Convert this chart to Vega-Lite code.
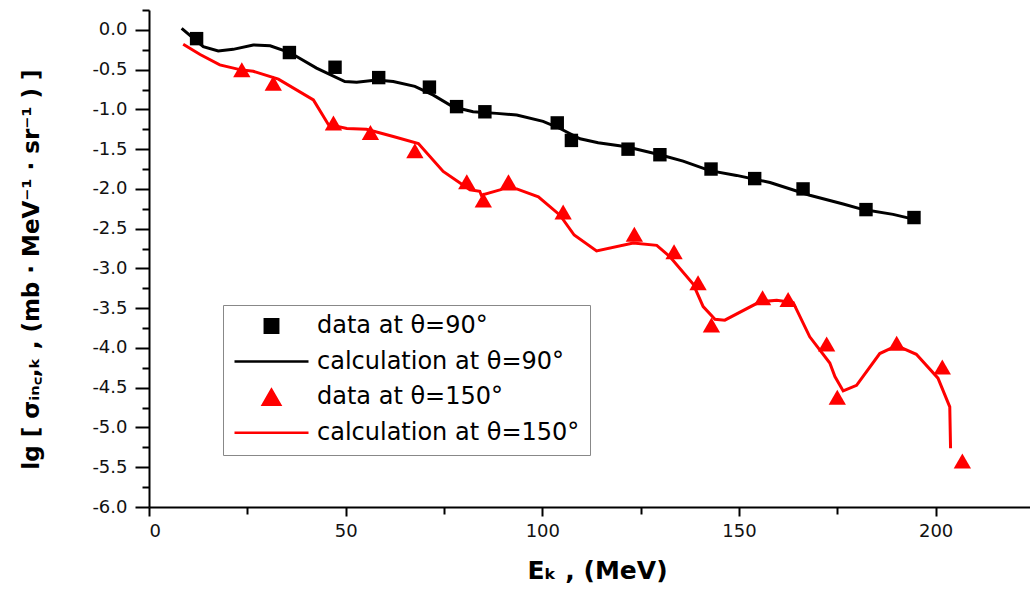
{
  "$schema": "https://vega.github.io/schema/vega-lite/v6.json",
  "width": 881,
  "height": 497,
  "autosize": {"type": "none"},
  "padding": {"left": 149, "top": 10, "right": 0, "bottom": 87},
  "background": "white",
  "config": {
    "view": {"stroke": null},
    "font": "DejaVu Sans",
    "axis": {
      "domainColor": "black", "domainWidth": 2, "tickColor": "black", "tickWidth": 2,
      "labelFont": "DejaVu Sans", "labelFontSize": 18, "labelColor": "#111",
      "titleFont": "DejaVu Sans", "titleFontSize": 22, "titleFontWeight": "bold", "titleColor": "black",
      "grid": false
    }
  },
  "data": {"values": [
    {"series": "calculation at θ=90°", "i": 1, "E": 8.3, "v": 0.02},
    {"series": "calculation at θ=90°", "i": 2, "E": 13.8, "v": -0.21},
    {"series": "calculation at θ=90°", "i": 3, "E": 17.6, "v": -0.265},
    {"series": "calculation at θ=90°", "i": 4, "E": 21.4, "v": -0.245},
    {"series": "calculation at θ=90°", "i": 5, "E": 26.5, "v": -0.19},
    {"series": "calculation at θ=90°", "i": 6, "E": 30.8, "v": -0.2},
    {"series": "calculation at θ=90°", "i": 7, "E": 35.8, "v": -0.285},
    {"series": "calculation at θ=90°", "i": 8, "E": 42.6, "v": -0.48},
    {"series": "calculation at θ=90°", "i": 9, "E": 49.8, "v": -0.65},
    {"series": "calculation at θ=90°", "i": 10, "E": 52.8, "v": -0.66},
    {"series": "calculation at θ=90°", "i": 11, "E": 57.9, "v": -0.63},
    {"series": "calculation at θ=90°", "i": 12, "E": 62.1, "v": -0.65},
    {"series": "calculation at θ=90°", "i": 13, "E": 67.6, "v": -0.71},
    {"series": "calculation at θ=90°", "i": 14, "E": 72.3, "v": -0.82},
    {"series": "calculation at θ=90°", "i": 15, "E": 77.4, "v": -0.97},
    {"series": "calculation at θ=90°", "i": 16, "E": 82.4, "v": -1.03},
    {"series": "calculation at θ=90°", "i": 17, "E": 88.4, "v": -1.05},
    {"series": "calculation at θ=90°", "i": 18, "E": 93.5, "v": -1.07},
    {"series": "calculation at θ=90°", "i": 19, "E": 100.2, "v": -1.15},
    {"series": "calculation at θ=90°", "i": 20, "E": 104.5, "v": -1.24},
    {"series": "calculation at θ=90°", "i": 21, "E": 109.6, "v": -1.37},
    {"series": "calculation at θ=90°", "i": 22, "E": 114.2, "v": -1.42},
    {"series": "calculation at θ=90°", "i": 23, "E": 121.4, "v": -1.47},
    {"series": "calculation at θ=90°", "i": 24, "E": 129.9, "v": -1.57},
    {"series": "calculation at θ=90°", "i": 25, "E": 135.8, "v": -1.65},
    {"series": "calculation at θ=90°", "i": 26, "E": 142.6, "v": -1.77},
    {"series": "calculation at θ=90°", "i": 27, "E": 149.4, "v": -1.83},
    {"series": "calculation at θ=90°", "i": 28, "E": 157.9, "v": -1.92},
    {"series": "calculation at θ=90°", "i": 29, "E": 168.0, "v": -2.08},
    {"series": "calculation at θ=90°", "i": 30, "E": 176.5, "v": -2.19},
    {"series": "calculation at θ=90°", "i": 31, "E": 181.6, "v": -2.26},
    {"series": "calculation at θ=90°", "i": 32, "E": 189.2, "v": -2.32},
    {"series": "calculation at θ=90°", "i": 33, "E": 194.3, "v": -2.38},

    {"series": "calculation at θ=150°", "i": 1, "E": 8.7, "v": -0.18},
    {"series": "calculation at θ=150°", "i": 2, "E": 13.0, "v": -0.31},
    {"series": "calculation at θ=150°", "i": 3, "E": 18.0, "v": -0.44},
    {"series": "calculation at θ=150°", "i": 4, "E": 23.1, "v": -0.5},
    {"series": "calculation at θ=150°", "i": 5, "E": 26.5, "v": -0.52},
    {"series": "calculation at θ=150°", "i": 6, "E": 32.9, "v": -0.62},
    {"series": "calculation at θ=150°", "i": 7, "E": 41.8, "v": -0.88},
    {"series": "calculation at θ=150°", "i": 8, "E": 45.6, "v": -1.19},
    {"series": "calculation at θ=150°", "i": 9, "E": 50.3, "v": -1.24},
    {"series": "calculation at θ=150°", "i": 10, "E": 55.3, "v": -1.25},
    {"series": "calculation at θ=150°", "i": 11, "E": 62.1, "v": -1.34},
    {"series": "calculation at θ=150°", "i": 12, "E": 68.5, "v": -1.43},
    {"series": "calculation at θ=150°", "i": 13, "E": 74.8, "v": -1.78},
    {"series": "calculation at θ=150°", "i": 14, "E": 81.6, "v": -2.01},
    {"series": "calculation at θ=150°", "i": 15, "E": 84.1, "v": -2.03},
    {"series": "calculation at θ=150°", "i": 16, "E": 84.5, "v": -2.08},
    {"series": "calculation at θ=150°", "i": 17, "E": 90.1, "v": -2.0},
    {"series": "calculation at θ=150°", "i": 18, "E": 93.5, "v": -2.0},
    {"series": "calculation at θ=150°", "i": 19, "E": 99.0, "v": -2.1},
    {"series": "calculation at θ=150°", "i": 20, "E": 104.5, "v": -2.33},
    {"series": "calculation at θ=150°", "i": 21, "E": 108.1, "v": -2.58},
    {"series": "calculation at θ=150°", "i": 22, "E": 113.8, "v": -2.78},
    {"series": "calculation at θ=150°", "i": 23, "E": 123.1, "v": -2.68},
    {"series": "calculation at θ=150°", "i": 24, "E": 129.1, "v": -2.71},
    {"series": "calculation at θ=150°", "i": 25, "E": 132.4, "v": -2.85},
    {"series": "calculation at θ=150°", "i": 26, "E": 138.4, "v": -3.2},
    {"series": "calculation at θ=150°", "i": 27, "E": 140.9, "v": -3.48},
    {"series": "calculation at θ=150°", "i": 28, "E": 143.9, "v": -3.64},
    {"series": "calculation at θ=150°", "i": 29, "E": 146.4, "v": -3.65},
    {"series": "calculation at θ=150°", "i": 30, "E": 155.3, "v": -3.42},
    {"series": "calculation at θ=150°", "i": 31, "E": 159.6, "v": -3.4},
    {"series": "calculation at θ=150°", "i": 32, "E": 163.8, "v": -3.43},
    {"series": "calculation at θ=150°", "i": 33, "E": 168.0, "v": -3.86},
    {"series": "calculation at θ=150°", "i": 34, "E": 173.1, "v": -4.19},
    {"series": "calculation at θ=150°", "i": 35, "E": 174.4, "v": -4.36},
    {"series": "calculation at θ=150°", "i": 36, "E": 176.5, "v": -4.54},
    {"series": "calculation at θ=150°", "i": 37, "E": 179.9, "v": -4.47},
    {"series": "calculation at θ=150°", "i": 38, "E": 185.8, "v": -4.07},
    {"series": "calculation at θ=150°", "i": 39, "E": 190.1, "v": -3.97},
    {"series": "calculation at θ=150°", "i": 40, "E": 195.1, "v": -4.08},
    {"series": "calculation at θ=150°", "i": 41, "E": 200.6, "v": -4.38},
    {"series": "calculation at θ=150°", "i": 42, "E": 203.6, "v": -4.74},
    {"series": "calculation at θ=150°", "i": 43, "E": 203.8, "v": -5.26},

    {"series": "data at θ=90°", "i": 1, "E": 12.1, "v": -0.11},
    {"series": "data at θ=90°", "i": 2, "E": 35.7, "v": -0.285},
    {"series": "data at θ=90°", "i": 3, "E": 47.3, "v": -0.47},
    {"series": "data at θ=90°", "i": 4, "E": 58.4, "v": -0.6},
    {"series": "data at θ=90°", "i": 5, "E": 71.3, "v": -0.72},
    {"series": "data at θ=90°", "i": 6, "E": 78.2, "v": -0.965},
    {"series": "data at θ=90°", "i": 7, "E": 85.4, "v": -1.03},
    {"series": "data at θ=90°", "i": 8, "E": 103.8, "v": -1.17},
    {"series": "data at θ=90°", "i": 9, "E": 107.4, "v": -1.39},
    {"series": "data at θ=90°", "i": 10, "E": 121.8, "v": -1.5},
    {"series": "data at θ=90°", "i": 11, "E": 129.9, "v": -1.57},
    {"series": "data at θ=90°", "i": 12, "E": 142.9, "v": -1.75},
    {"series": "data at θ=90°", "i": 13, "E": 154.0, "v": -1.87},
    {"series": "data at θ=90°", "i": 14, "E": 166.3, "v": -2.0},
    {"series": "data at θ=90°", "i": 15, "E": 182.3, "v": -2.26},
    {"series": "data at θ=90°", "i": 16, "E": 194.5, "v": -2.36},

    {"series": "data at θ=150°", "i": 1, "E": 23.6, "v": -0.5},
    {"series": "data at θ=150°", "i": 2, "E": 31.6, "v": -0.67},
    {"series": "data at θ=150°", "i": 3, "E": 46.9, "v": -1.17},
    {"series": "data at θ=150°", "i": 4, "E": 56.3, "v": -1.29},
    {"series": "data at θ=150°", "i": 5, "E": 67.6, "v": -1.52},
    {"series": "data at θ=150°", "i": 6, "E": 80.8, "v": -1.91},
    {"series": "data at θ=150°", "i": 7, "E": 85.0, "v": -2.14},
    {"series": "data at θ=150°", "i": 8, "E": 91.4, "v": -1.91},
    {"series": "data at θ=150°", "i": 9, "E": 105.3, "v": -2.29},
    {"series": "data at θ=150°", "i": 10, "E": 123.4, "v": -2.57},
    {"series": "data at θ=150°", "i": 11, "E": 133.5, "v": -2.79},
    {"series": "data at θ=150°", "i": 12, "E": 139.6, "v": -3.18},
    {"series": "data at θ=150°", "i": 13, "E": 143.0, "v": -3.71},
    {"series": "data at θ=150°", "i": 14, "E": 156.0, "v": -3.37},
    {"series": "data at θ=150°", "i": 15, "E": 162.5, "v": -3.39},
    {"series": "data at θ=150°", "i": 16, "E": 172.3, "v": -3.95},
    {"series": "data at θ=150°", "i": 17, "E": 175.0, "v": -4.62},
    {"series": "data at θ=150°", "i": 18, "E": 190.1, "v": -3.94},
    {"series": "data at θ=150°", "i": 19, "E": 201.7, "v": -4.24},
    {"series": "data at θ=150°", "i": 20, "E": 206.8, "v": -5.42}
  ]},
  "resolve": {"axis": {"x": "independent", "y": "independent"}},
  "layer": [
    {
      "transform": [{"filter": "indexof(datum.series, 'calculation') === 0"}],
      "mark": {"type": "line", "strokeWidth": 3, "clip": false},
      "encoding": {
        "x": {"field": "E", "type": "quantitative",
              "scale": {"domain": [0, 224], "nice": false, "zero": false},
              "axis": {"orient": "bottom", "values": [0, 50, 100, 150, 200], "tickSize": 9, "labelPadding": 6,
                       "title": "Eₖ ,   (MeV)", "titleFontSize": 25, "titlePadding": 18, "titleX": 448}},
        "y": {"field": "v", "type": "quantitative",
              "scale": {"domain": [-6, 0.25], "nice": false, "zero": false},
              "axis": {"orient": "left", "values": [-6, -5.5, -5, -4.5, -4, -3.5, -3, -2.5, -2, -1.5, -1, -0.5, 0],
                       "labelExpr": "replace(format(datum.value, '.1f'), '−', '-')", "tickSize": 14, "labelPadding": 8,
                       "title": "lg [ σᵢₙ꜀,ₖ  ,   (mb · MeV⁻¹ · sr⁻¹ ) ]", "titleFontSize": 23, "titlePadding": 48, "titleY": 259}},
        "color": {"field": "series", "type": "nominal",
                  "scale": {"domain": ["data at θ=90°", "calculation at θ=90°", "data at θ=150°", "calculation at θ=150°"],
                            "range": ["#000000", "#000000", "#ff0000", "#ff0000"]}},
        "detail": {"field": "series"},
        "order": {"field": "i", "type": "quantitative"}
      }
    },
    {
      "transform": [{"filter": "indexof(datum.series, 'data') === 0"}],
      "mark": {"type": "point", "filled": true, "opacity": 1, "strokeWidth": 0},
      "encoding": {
        "x": {"field": "E", "type": "quantitative",
              "axis": {"orient": "bottom", "values": [25, 75, 125, 175], "tickSize": 7, "labels": false, "domain": false, "title": null}},
        "y": {"field": "v", "type": "quantitative",
              "axis": {"orient": "left", "values": [-5.75, -5.25, -4.75, -4.25, -3.75, -3.25, -2.75, -2.25, -1.75, -1.25, -0.75, -0.25, 0.25],
                       "tickSize": 7, "labels": false, "domain": false, "title": null}},
        "color": {"field": "series", "type": "nominal",
                  "scale": {"domain": ["data at θ=90°", "calculation at θ=90°", "data at θ=150°", "calculation at θ=150°"],
                            "range": ["#000000", "#000000", "#ff0000", "#ff0000"]},
                  "legend": {"orient": "none", "legendX": 74, "legendY": 295, "title": null,
                             "padding": 10, "strokeColor": "#888", "fillColor": "white",
                             "labelFont": "DejaVu Sans", "labelFontSize": 24, "labelColor": "black",
                             "labelOffset": 7, "clipHeight": 22, "rowPadding": 11.6, "symbolStrokeWidth": 2.5, "labelLimit": 400}},
        "shape": {"field": "series", "type": "nominal",
                  "scale": {"domain": ["data at θ=90°", "calculation at θ=90°", "data at θ=150°", "calculation at θ=150°"],
                            "range": ["square", "stroke", "triangle-up", "stroke"]}},
        "size": {"field": "series", "type": "nominal",
                 "scale": {"type": "ordinal", "domain": ["data at θ=90°", "calculation at θ=90°", "data at θ=150°", "calculation at θ=150°"],
                           "range": [180, 5476, 300, 5476]}}
      }
    }
  ]
}
